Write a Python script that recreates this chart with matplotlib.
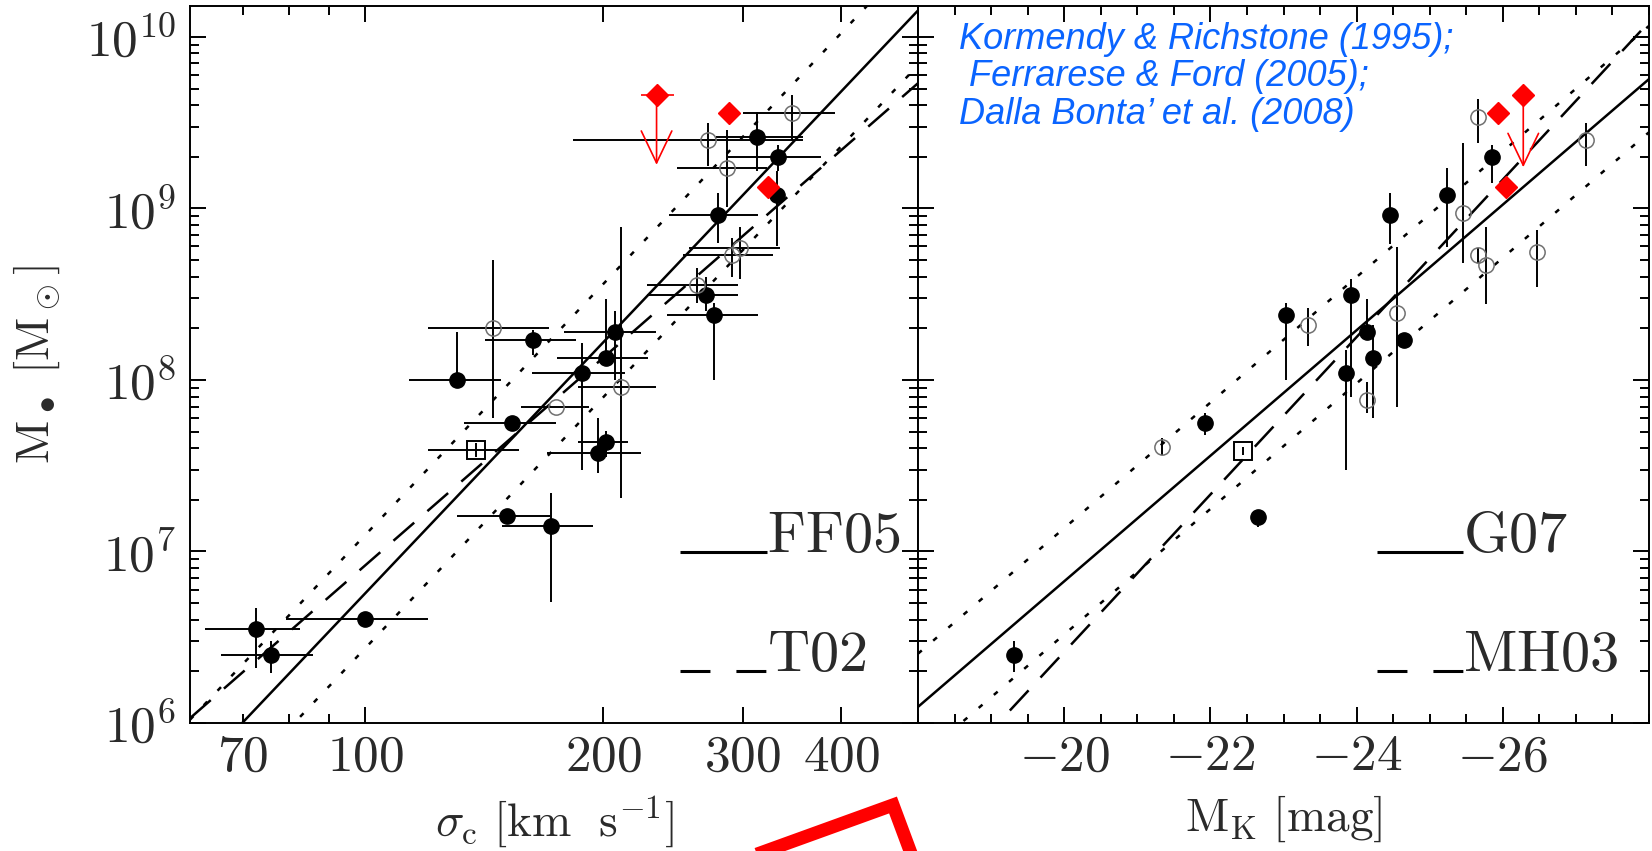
import numpy as np
import matplotlib
matplotlib.use('Agg')
import matplotlib.pyplot as plt
from matplotlib.ticker import FixedLocator, FixedFormatter, LogLocator, NullFormatter, MultipleLocator
from matplotlib.lines import Line2D

plt.rcParams['mathtext.fontset'] = 'cm'

# ---------------- LEFT PANEL DATA: sigma_c [km/s] vs log M_bh ----------------
lf_sig    = [72.7, 76.0, 100, 130.5, 163, 153.3, 188, 201.8, 206.6, 196.6, 201.8, 151, 171.8, 269.8, 276, 279, 332, 333, 313]
lf_logM   = [6.548, 6.396, 6.606, 8.00, 8.233, 7.749, 8.04, 8.128, 8.28, 7.574, 7.638, 7.207, 7.149, 8.496, 8.379, 8.962, 9.079, 9.30, 9.417]
lf_sig_lo = [62.6, 65.6, 79.4, 113.4, 141.6, 133.2, 162.5, 174.6, 178.5, 169.6, 186, 130.5, 148.8, 226.8, 240.5, 242, 332, 287.6, 278]
lf_sig_hi = [82.7, 85.8, 120, 148.5, 184.7, 174.3, 213, 227.5, 233, 223, 215, 171, 193.8, 296, 313.5, 313.5, 332, 376.5, 358]
lf_lo     = [6.32, 6.29, 6.606, 8.00, 8.146, 7.71, 7.475, 8.128, 8.0, 7.46, 7.55, 7.17, 6.706, 8.40, 8.0, 8.80, 8.78, 9.22, 9.22]
lf_hi     = [6.67, 6.48, 6.606, 8.28, 8.29, 7.79, 8.216, 8.47, 8.40, 7.78, 7.70, 7.24, 7.34, 8.60, 8.45, 9.09, 9.22, 9.37, 9.56]

lo_sig    = [144.9, 174.2, 210.6, 262.6, 291, 298, 271, 286.6, 346.7]
lo_logM   = [8.303, 7.843, 7.96, 8.554, 8.729, 8.77, 9.40, 9.236, 9.557]
lo_sig_lo = [119.9, 157.5, 186, 226.8, 252, 257, 183, 248, 300]
lo_sig_hi = [170.8, 192, 233, 296, 328, 335, 358, 322, 393]
lo_lo     = [7.78, 7.843, 7.31, 8.45, 8.60, 8.59, 9.25, 9.01, 9.40]
lo_hi     = [8.70, 7.843, 8.89, 8.65, 8.83, 8.89, 9.50, 9.46, 9.66]

ls_sig, ls_logM, ls_sig_lo, ls_sig_hi, ls_lo, ls_hi = [138], [7.592], [120], [156.6], [7.55], [7.63]

lr_sig  = [288.5, 323]
lr_logM = [9.557, 9.125]
lr_lim_sig, lr_lim_logM, lr_lim_to = 233.5, 9.662, 9.254
lr_lim_sig_lo, lr_lim_sig_hi = 223, 245.5

# relation endpoints (sigma, log M)
ff05_sig, ff05_logM = [60, 500], [5.679, 10.154]
t02_sig,  t02_logM  = [60, 500], [6.028, 9.730]
ffu_sig,  ffu_logM  = [60, 500], [6.019, 10.494]
ffl_sig,  ffl_logM  = [60, 500], [5.359, 9.834]

# ---------------- RIGHT PANEL DATA: M_K [mag] vs log M_bh ----------------
rf_mk   = [-19.32, -21.93, -22.65, -23.03, -23.93, -24.14, -24.23, -23.85, -24.65, -24.46, -25.24, -25.85]
rf_logM = [6.396, 7.749, 7.20, 8.379, 8.496, 8.28, 8.128, 8.04, 8.233, 8.962, 9.079, 9.30]
rf_lo   = [6.30, 7.68, 7.14, 8.0, 7.90, 8.28, 7.78, 7.475, 8.233, 8.79, 8.776, 9.15]
rf_hi   = [6.48, 7.81, 7.22, 8.45, 8.59, 8.47, 8.32, 8.175, 8.233, 9.09, 9.236, 9.37]

ro_mk   = [-21.34, -23.34, -24.55, -24.14, -25.45, -25.66, -25.66, -25.77, -26.47, -27.14]
ro_logM = [7.609, 8.32, 8.39, 7.883, 8.974, 9.534, 8.729, 8.67, 8.746, 9.40]
ro_lo   = [7.56, 8.20, 7.84, 7.81, 8.68, 9.38, 8.68, 8.44, 8.54, 9.25]
ro_hi   = [7.66, 8.42, 8.776, 7.99, 9.38, 9.64, 8.77, 8.89, 8.875, 9.50]

rs_mk, rs_logM, rs_lo, rs_hi = [-22.44], [7.586], [7.56], [7.61]

rr_mk   = [-25.93, -26.04]
rr_logM = [9.557, 9.125]
rr_lim_mk, rr_lim_logM, rr_lim_to = -26.28, 9.662, 9.24

g07_mk,  g07_logM  = [-18, -28], [6.094, 9.754]
mh03_mk, mh03_logM = [-18, -28], [5.496, 10.086]
gu_mk,   gu_logM   = [-18, -28], [6.404, 10.064]
gl_mk,   gl_logM   = [-18, -28], [5.784, 9.444]

left_xticks = [100, 200, 300, 400]
left_xminor = [70, 80, 90]
left_xminor_labels = ['70', '', '']
y_ticks = [1e6, 1e7, 1e8, 1e9, 1e10]
y_tick_labels = [r'$10^{6}$', r'$10^{7}$', r'$10^{8}$', r'$10^{9}$', r'$10^{10}$']
right_xticks = [-20, -22, -24, -26]

# ---------------- FIGURE ----------------
W, H = 1652, 851
fig = plt.figure(figsize=(W / 100, H / 100), dpi=100)
axL = fig.add_axes([190 / W, 1 - 723 / H, 728 / W, 717 / H])
axL.set_xscale('log')
axL.set_yscale('log')
axR = fig.add_axes([918 / W, 1 - 723 / H, 731 / W, 717 / H], sharey=axL)

def P(v):
    return 10 ** np.asarray(v, dtype=float)

LINE_LW = 1.8
DOT = (0, (2, 6))
DASH = (0, (11, 7))
EB_LW = 1.4
TXT = '#2a2a2a'
TICK_FS = 37
LABEL_FS = 34

# ---- left panel ----
axL.plot(ff05_sig, P(ff05_logM), color='k', lw=LINE_LW, zorder=2)
axL.plot(t02_sig, P(t02_logM), color='k', lw=LINE_LW, ls=DASH, zorder=2)
axL.plot(ffu_sig, P(ffu_logM), color='k', lw=LINE_LW, ls=DOT, zorder=2)
axL.plot(ffl_sig, P(ffl_logM), color='k', lw=LINE_LW, ls=DOT, zorder=2)

def ebars(ax, x, y, xlo, xhi, ylo, yhi):
    x = np.asarray(x, float)
    yv = P(y)
    yerr = [yv - P(ylo), P(yhi) - yv]
    xerr = None
    if xlo is not None:
        xerr = [x - np.asarray(xlo, float), np.asarray(xhi, float) - x]
    ax.errorbar(x, yv, xerr=xerr, yerr=yerr, fmt='none', ecolor='k',
                elinewidth=EB_LW, capsize=0, zorder=3)

ebars(axL, lf_sig, lf_logM, lf_sig_lo, lf_sig_hi, lf_lo, lf_hi)
ebars(axL, lo_sig, lo_logM, lo_sig_lo, lo_sig_hi, lo_lo, lo_hi)
ebars(axL, ls_sig, ls_logM, ls_sig_lo, ls_sig_hi, ls_lo, ls_hi)

axL.plot(lf_sig, P(lf_logM), 'o', color='k', ms=11, zorder=4)
axL.plot(lo_sig, P(lo_logM), 'o', mfc='none', mec='#707070', mew=1.1, ms=11, zorder=4)
axL.plot(ls_sig, P(ls_logM), 's', mfc='none', mec='k', mew=1.4, ms=13, zorder=4)

axL.errorbar([lr_lim_sig], [10 ** lr_lim_logM],
             xerr=[[lr_lim_sig - lr_lim_sig_lo], [lr_lim_sig_hi - lr_lim_sig]],
             fmt='none', ecolor='red', elinewidth=1.2, capsize=0, zorder=5)
axL.annotate('', xy=(lr_lim_sig, 10 ** lr_lim_to), xytext=(lr_lim_sig, 10 ** lr_lim_logM),
             arrowprops=dict(arrowstyle='->,head_length=2.3,head_width=1.1', color='red',
                             lw=1.2, shrinkA=0, shrinkB=0), zorder=5)
axL.plot([lr_lim_sig] + lr_sig, P([lr_lim_logM] + lr_logM), 'D', color='red', ms=11.5, mec='red', zorder=6)

# ---- right panel ----
axR.plot(g07_mk, P(g07_logM), color='k', lw=LINE_LW, zorder=2)
axR.plot(mh03_mk, P(mh03_logM), color='k', lw=LINE_LW, ls=DASH, zorder=2)
axR.plot(gu_mk, P(gu_logM), color='k', lw=LINE_LW, ls=DOT, zorder=2)
axR.plot(gl_mk, P(gl_logM), color='k', lw=LINE_LW, ls=DOT, zorder=2)

ebars(axR, rf_mk, rf_logM, None, None, rf_lo, rf_hi)
ebars(axR, ro_mk, ro_logM, None, None, ro_lo, ro_hi)
ebars(axR, rs_mk, rs_logM, None, None, rs_lo, rs_hi)

axR.plot(rf_mk, P(rf_logM), 'o', color='k', ms=11, zorder=4)
axR.plot(ro_mk, P(ro_logM), 'o', mfc='none', mec='#707070', mew=1.1, ms=11, zorder=4)
axR.plot(rs_mk, P(rs_logM), 's', mfc='none', mec='k', mew=1.4, ms=13, zorder=4)

axR.annotate('', xy=(rr_lim_mk, 10 ** rr_lim_to), xytext=(rr_lim_mk, 10 ** rr_lim_logM),
             arrowprops=dict(arrowstyle='->,head_length=2.3,head_width=1.1', color='red',
                             lw=1.2, shrinkA=0, shrinkB=0), zorder=5)
axR.plot([rr_lim_mk] + rr_mk, P([rr_lim_logM] + rr_logM), 'D', color='red', ms=11.5, mec='red', zorder=6)

# ---- axes formatting ----
axL.set_xlim(60, 500)
axL.set_ylim(1e6, 10 ** 10.18)
axR.set_xlim(-18, -28)

axL.xaxis.set_major_locator(FixedLocator(left_xticks))
axL.xaxis.set_major_formatter(FixedFormatter([rf'${t}$' for t in left_xticks]))
axL.xaxis.set_minor_locator(FixedLocator(left_xminor))
axL.xaxis.set_minor_formatter(FixedFormatter([rf'${t}$' if t else '' for t in left_xminor_labels]))
axL.yaxis.set_major_locator(FixedLocator(y_ticks))
axL.yaxis.set_major_formatter(FixedFormatter(y_tick_labels))
axL.yaxis.set_minor_locator(LogLocator(base=10, subs=np.arange(2, 10)))
axL.yaxis.set_minor_formatter(NullFormatter())

axR.xaxis.set_major_locator(FixedLocator(right_xticks))
axR.xaxis.set_major_formatter(FixedFormatter([rf'${t}$' for t in right_xticks]))
axR.xaxis.set_minor_locator(MultipleLocator(0.5))

for ax in (axL, axR):
    ax.tick_params(which='both', direction='in', top=True, right=True, left=True, bottom=True,
                   width=1.4, color='k', labelcolor=TXT, labelsize=TICK_FS)
    ax.tick_params(which='major', length=11.5)
    ax.tick_params(which='minor', length=6.5)
    ax.tick_params(axis='x', which='both', pad=6)
    ax.tick_params(axis='y', which='both', pad=10)
    for s in ax.spines.values():
        s.set_linewidth(1.4)
axR.tick_params(axis='y', which='both', labelleft=False)

axL.set_xlabel(r'$\sigma_{\rm c}\ [{\rm km}\ \ {\rm s}^{-1}]$', fontsize=LABEL_FS, color=TXT)
axR.set_xlabel(r'${\rm M_K}\ [{\rm mag}]$', fontsize=LABEL_FS, color=TXT)
axL.set_ylabel(r'${\rm M}_\bullet\ [{\rm M}_\odot]$', fontsize=LABEL_FS, color=TXT)
axL.xaxis.set_label_coords(0.5, -0.099)
axR.xaxis.set_label_coords(0.5, -0.099)
axL.yaxis.set_label_coords(-0.176, 0.5)

# ---- in-panel keys ----
LEG_DASH = (0, (9.8, 8.5))
for ax, x0, x1, names in ((axL, 0.673, 0.7926, ('FF05', 'T02')),
                          (axR, 0.628, 0.7456, ('G07', 'MH03'))):
    ax.plot([x0, x1], [0.2385, 0.2385], transform=ax.transAxes, color='k', lw=2.2,
            solid_capstyle='butt')
    ax.text(x1, 0.2385, rf'$\rm {names[0]}$', transform=ax.transAxes, fontsize=42,
            va='baseline', ha='left', color=TXT)
    ax.plot([x0, x1], [0.0725, 0.0725], transform=ax.transAxes, color='k', lw=2.2,
            ls=LEG_DASH, dash_capstyle='butt')
    ax.text(x1, 0.0725, rf'$\rm {names[1]}$', transform=ax.transAxes, fontsize=42,
            va='baseline', ha='left', color=TXT)

axR.text(0.056, 0.978,
         "Kormendy & Richstone (1995);\n Ferrarese & Ford (2005);\nDalla Bonta\u2019 et al. (2008)",
         transform=axR.transAxes, fontsize=26, family='Liberation Sans', style='italic',
         color='#0a64ff', va='top', ha='left', linespacing=1.1, zorder=7)

# ---- red frame corner (annotation) ----
px = [752, 893, 912]
py = [856, 805, 856]
fig.add_artist(Line2D([x / W for x in px], [1 - y / H for y in py], transform=fig.transFigure,
                      color='red', lw=9.5, solid_joinstyle='miter', clip_on=False))

fig.savefig('out.png', dpi=100)
